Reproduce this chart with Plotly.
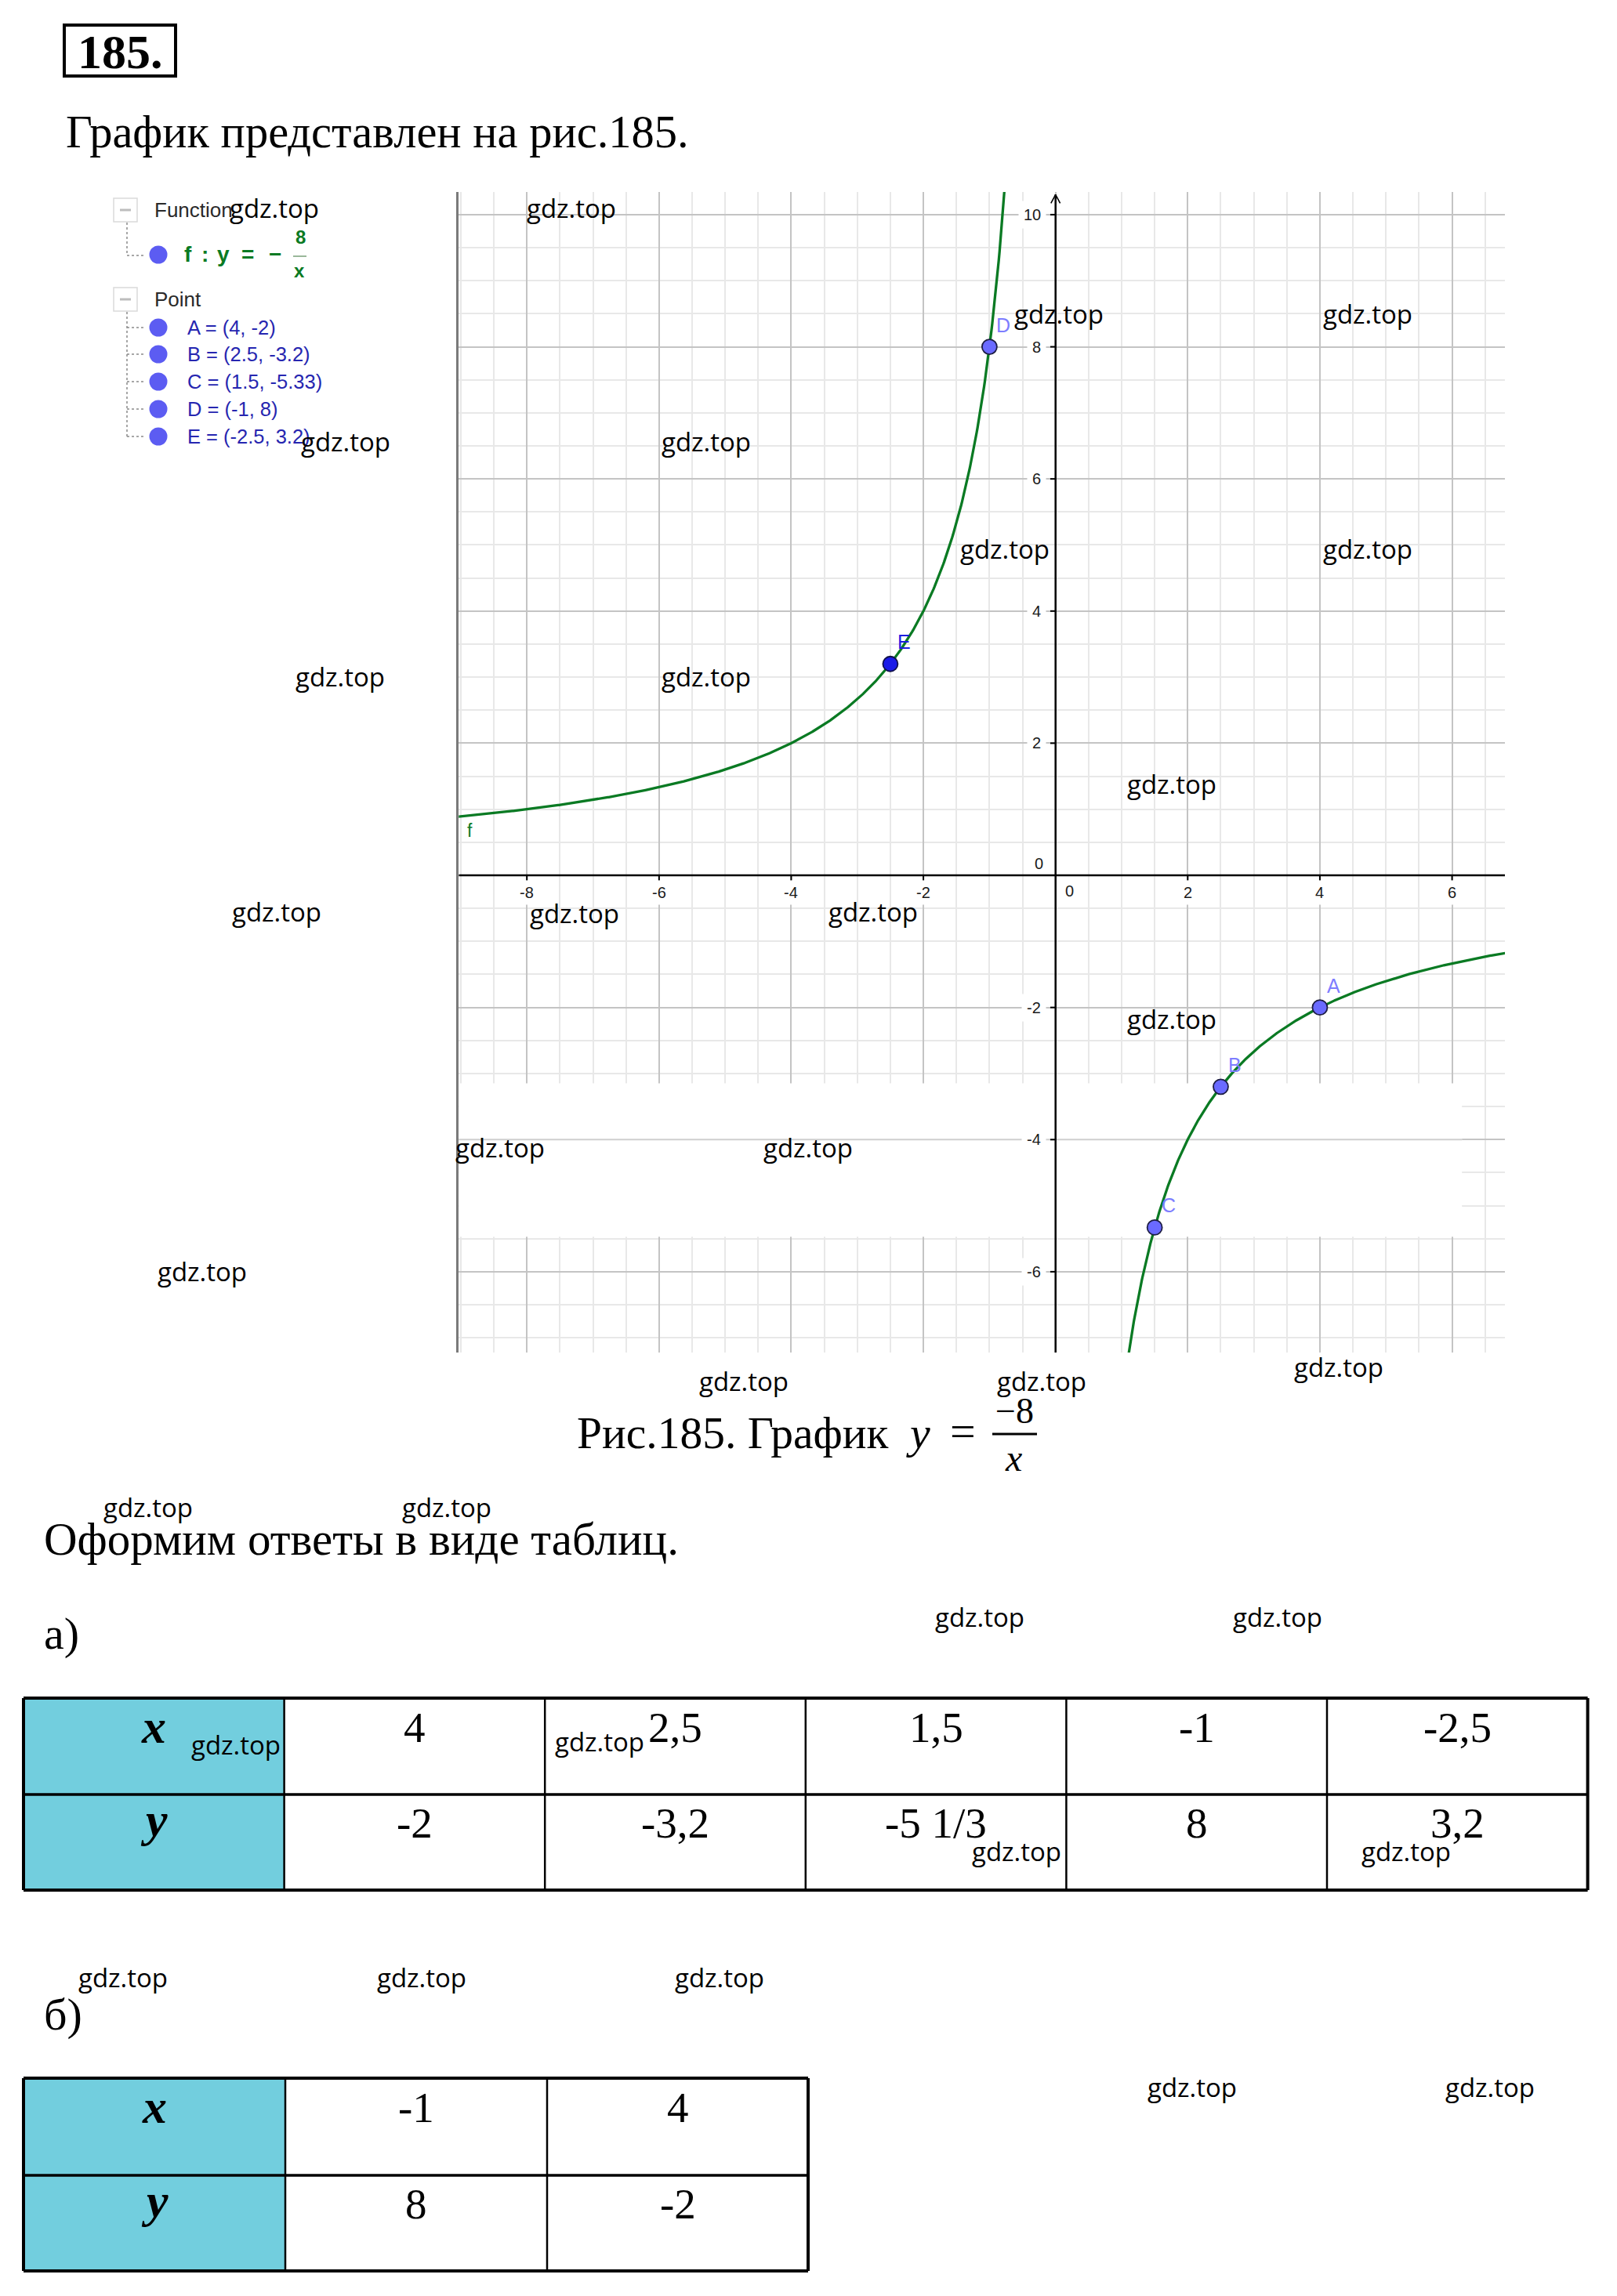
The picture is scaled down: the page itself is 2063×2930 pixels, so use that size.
import numpy as np
import plotly.graph_objects as go

W, H = 2063, 2930


def PX(px):
    return px / W


def PY(py):
    return 1 - py / H


# ---------------- data ----------------
K = -8  # y = K / x
POINT_NAMES = ["A", "B", "C", "D", "E"]
POINT_X = [4, 2.5, 1.5, -1, -2.5]
POINT_Y = [-2, -3.2, -5.33, 8, 3.2]
X_TICKS = [-8, -6, -4, -2, 2, 4, 6]
Y_TICKS = [-6, -4, -2, 2, 4, 6, 8, 10]
X_RANGE = [-9.031, 6.8]
Y_RANGE = [-7.223, 10.343]

TABLE_A_X = ["4", "2,5", "1,5", "-1", "-2,5"]
TABLE_A_Y = ["-2", "-3,2", "-5 1/3", "8", "3,2"]
TABLE_B_X = ["-1", "4"]
TABLE_B_Y = ["8", "-2"]

# watermark positions (page pixels, centre)
WATERMARKS = [(350, 265), (729, 265), (1351, 400), (1745, 400), (441, 563), (901, 563),
              (1282, 700), (1745, 700), (434, 863), (901, 863), (1495, 1001), (353, 1163),
              (733, 1165), (1114, 1163), (1495, 1301), (638, 1464), (1031, 1464), (258, 1622),
              (949, 1762), (1329, 1762), (1708, 1744), (189, 1923), (570, 1923), (1250, 2063),
              (1630, 2063), (301, 2226), (765, 2222), (1297, 2362), (1794, 2362), (157, 2523),
              (538, 2523), (918, 2523), (1521, 2663), (1901, 2663)]

SERIF = "Liberation Serif"
SANS = "Liberation Sans"
WM_FONT = "Open Sans"
GREEN = "rgb(10,122,35)"
CYAN = "#72CEDE"

shapes = []
annotations = []


def ann(text, x, y, size, color="black", family=SANS, xanchor="center", yanchor="middle", **kw):
    d = dict(text=text, x=PX(x), y=PY(y), xref="paper", yref="paper", showarrow=False,
             font=dict(size=size, color=color, family=family), xanchor=xanchor, yanchor=yanchor)
    d.update(kw)
    annotations.append(d)


def line(x0, y0, x1, y1, color="black", width=2, dash=None):
    ln = dict(color=color, width=width)
    if dash:
        ln["dash"] = dash
    shapes.append(dict(type="line", xref="paper", yref="paper", x0=PX(x0), y0=PY(y0),
                       x1=PX(x1), y1=PY(y1), line=ln, layer="above"))


def rect(x0, y0, x1, y1, fill="rgba(0,0,0,0)", lc="black", lw=0):
    shapes.append(dict(type="rect", xref="paper", yref="paper", x0=PX(x0), y0=PY(y0),
                       x1=PX(x1), y1=PY(y1), fillcolor=fill,
                       line=dict(color=lc, width=lw), layer="above"))


def circle(cx, cy, r, fill):
    shapes.append(dict(type="circle", xref="paper", yref="paper", x0=PX(cx - r), y0=PY(cy + r),
                       x1=PX(cx + r), y1=PY(cy - r), fillcolor=fill,
                       line=dict(width=0), layer="above"))


fig = go.Figure()

# ---------------- graph ----------------
# white erased band (scan artifact)
bx0, bx1, by0, by1 = -9.2, 6.15, -3.15, -5.47
fig.add_trace(go.Scatter(x=[bx0, bx1, bx1, bx0, bx0], y=[by0, by0, by1, by1, by0],
                         fill="toself", fillcolor="white", mode="lines",
                         line=dict(width=0, color="white"), hoverinfo="skip", showlegend=False))
fig.add_trace(go.Scatter(x=[bx0, bx1], y=[-4, -4], mode="lines",
                         line=dict(color="#cfcfcf", width=2), hoverinfo="skip", showlegend=False))

# axes lines
fig.add_trace(go.Scatter(x=X_RANGE, y=[0, 0], mode="lines", line=dict(color="black", width=2.5),
                         hoverinfo="skip", showlegend=False))
fig.add_trace(go.Scatter(x=[0, 0], y=[Y_RANGE[0], Y_RANGE[1] - 0.04], mode="lines",
                         line=dict(color="black", width=2.5), hoverinfo="skip", showlegend=False))
# arrow head on y axis
ytop = Y_RANGE[1] - 0.04
fig.add_trace(go.Scatter(x=[-0.07, 0, 0.07], y=[ytop - 0.13, ytop, ytop - 0.13], mode="lines",
                         line=dict(color="black", width=1.6), hoverinfo="skip", showlegend=False))
# ticks
tx, ty = [], []
for t in X_TICKS:
    tx += [t, t, None]
    ty += [0, -0.08, None]
for t in Y_TICKS:
    tx += [0, -0.08, None]
    ty += [t, t, None]
fig.add_trace(go.Scatter(x=tx, y=ty, mode="lines", line=dict(color="black", width=2),
                         hoverinfo="skip", showlegend=False))

# function curve y = -8/x
xl = np.linspace(X_RANGE[0] - 0.2, -0.6, 700)
xr = np.linspace(0.95, X_RANGE[1] + 0.2, 700)
cx = np.concatenate([xl, [np.nan], xr])
cy = K / cx
fig.add_trace(go.Scatter(x=cx, y=cy, mode="lines", line=dict(color=GREEN, width=3.3),
                         connectgaps=False, hoverinfo="skip", showlegend=False))

# points
fig.add_trace(go.Scatter(x=POINT_X[:4], y=POINT_Y[:4], mode="markers",
                         marker=dict(size=19, color="#6a6aff", line=dict(color="#1e1e44", width=1.8)),
                         hoverinfo="skip", showlegend=False))
fig.add_trace(go.Scatter(x=POINT_X[4:], y=POINT_Y[4:], mode="markers",
                         marker=dict(size=19, color="#1a1ae8", line=dict(color="#10104a", width=1.8)),
                         hoverinfo="skip", showlegend=False))

for n, x, y in zip(POINT_NAMES, POINT_X, POINT_Y):
    annotations.append(dict(text=n, x=x, y=y, xref="x", yref="y", showarrow=False,
                            xshift=18, yshift=28,
                            font=dict(size=25, family=SANS,
                                      color="#1c1ce0" if n == "E" else "#7d7dff")))
# label f
annotations.append(dict(text="f", x=-8.86, y=0.68, xref="x", yref="y", showarrow=False,
                        font=dict(size=23, family=SANS, color=GREEN)))

# tick labels
for t in X_TICKS:
    annotations.append(dict(text=str(t), x=t, y=0, xref="x", yref="y", showarrow=False,
                            yshift=-22, bgcolor="white", borderpad=4,
                            font=dict(size=20, family=SANS, color="#1a1a1a")))
for t in Y_TICKS:
    annotations.append(dict(text=str(t), x=0, y=t, xref="x", yref="y", showarrow=False,
                            xanchor="right", xshift=-12, bgcolor="white", borderpad=6,
                            font=dict(size=20, family=SANS, color="#1a1a1a")))
annotations.append(dict(text="0", x=0, y=0, xref="x", yref="y", showarrow=False,
                        xshift=18, yshift=-20, font=dict(size=20, family=SANS, color="#1a1a1a")))
annotations.append(dict(text="0", x=0, y=0, xref="x", yref="y", showarrow=False,
                        xshift=-21, yshift=15, font=dict(size=20, family=SANS, color="#1a1a1a")))

# ---------------- algebra view (legend) ----------------
for (by, label) in [(253, "Function"), (367, "Point")]:
    rect(145, by, 175, by + 30, fill="white", lc="#dadada", lw=1.5)
    line(153, by + 15, 167, by + 15, color="#bdbdbd", width=3)
    ann(label, 195, by + 15, 26, color="#2a2a2a", xanchor="left")

line(162, 284, 162, 326, color="#8a8a8a", width=1.5, dash="dot")
line(162, 326, 184, 326, color="#8a8a8a", width=1.5, dash="dot")
circle(202, 325, 11.5, "#5c5cf2")
for txt, gx in [("f", 240), (":", 261), ("y", 285), ("=", 316), ("−", 351)]:
    ann("<b>" + txt + "</b>", gx, 325, 28, color=GREEN)
ann("<b>8</b>", 383, 302, 24, color=GREEN)
line(374, 327, 391, 327, color="#9ab89a", width=2)
ann("<b>x</b>", 382, 346, 24, color=GREEN)

row_ys = [418, 452, 487, 522, 557]
line(162, 398, 162, 557, color="#8a8a8a", width=1.5, dash="dot")


def fmt(v):
    return ("%g" % v)


for n, x, y, ry in zip(POINT_NAMES, POINT_X, POINT_Y, row_ys):
    line(162, ry, 184, ry, color="#8a8a8a", width=1.5, dash="dot")
    circle(202, ry, 11.5, "#5c5cf2")
    ann("%s = (%s, %s)" % (n, fmt(x), fmt(y)), 237, ry, 25.5, color="#2626b0", xanchor="left")

# ---------------- page texts ----------------
rect(82, 32, 224, 97, lc="black", lw=4)
ann("<b>185.</b>", 153, 66, 62, family=SERIF)
ann("График представлен на рис.185.", 82, 168, 58.5, family=SERIF, xanchor="left")

ann("Рис.185. График", 734, 1828, 57.5, family=SERIF, xanchor="left")
ann("<i>y</i>", 1171, 1828, 58, family=SERIF)
ann("=", 1228, 1826, 58, family=SERIF)
ann("−8", 1294, 1800, 46, family=SERIF)
line(1266, 1830, 1323, 1830, color="black", width=3)
ann("<i>x</i>", 1293, 1860, 48, family=SERIF)

ann("Оформим ответы в виде таблиц.", 54, 1964, 59, family=SERIF, xanchor="left")
ann("а)", 54, 2084, 58, family=SERIF, xanchor="left")
ann("б)", 54, 2570, 58, family=SERIF, xanchor="left")


# ---------------- tables ----------------
def draw_table(xe, ye, xvals, yvals):
    rect(xe[0], ye[0], xe[1], ye[2], fill=CYAN)
    for i, x in enumerate(xe):
        w = 4 if i in (0, len(xe) - 1) else 2.5
        line(x, ye[0], x, ye[2], width=w)
    for j, y in enumerate(ye):
        line(xe[0], y, xe[-1], y, width=4 if j != 1 else 3.5)
    c0 = (xe[0] + xe[1]) / 2
    ann("<b><i>x</i></b>", c0, ye[0] + 36, 62, family=SERIF)
    ann("<b><i>y</i></b>", c0, ye[1] + 32, 62, family=SERIF)
    for i, (vx, vy) in enumerate(zip(xvals, yvals)):
        cc = (xe[i + 1] + xe[i + 2]) / 2
        ann(vx, cc, ye[0] + 37, 55, family=SERIF)
        ann(vy, cc, ye[1] + 36, 55, family=SERIF)


draw_table([30 + i * 332.6 for i in range(7)], [2167, 2290, 2412], TABLE_A_X, TABLE_A_Y)
draw_table([30, 364, 698, 1031], [2652, 2776, 2898], TABLE_B_X, TABLE_B_Y)

# ---------------- watermarks ----------------
for (wx, wy) in WATERMARKS:
    ann("gdz.top", wx, wy, 33, family=WM_FONT)

axis_common = dict(showgrid=True, gridcolor="#c4c4c4", gridwidth=2, tick0=0, dtick=2,
                   minor=dict(tick0=0, dtick=0.5, showgrid=True, gridcolor="#e8e8e8", gridwidth=1.6),
                   showticklabels=False, ticks="", zeroline=False, fixedrange=True)

fig.update_layout(
    width=W, height=H, autosize=False,
    margin=dict(l=0, r=0, t=0, b=0, pad=0),
    paper_bgcolor="white", plot_bgcolor="white",
    template="none", showlegend=False,
    xaxis=dict(domain=[PX(585.3), PX(1920)], range=X_RANGE, showline=False, **axis_common),
    yaxis=dict(domain=[PY(1726), PY(245)], range=Y_RANGE, showline=True, linecolor="#7a7a7a",
               linewidth=3, **axis_common),
    shapes=shapes, annotations=annotations,
)

fig.write_html("out.html", config={"displayModeBar": False})
